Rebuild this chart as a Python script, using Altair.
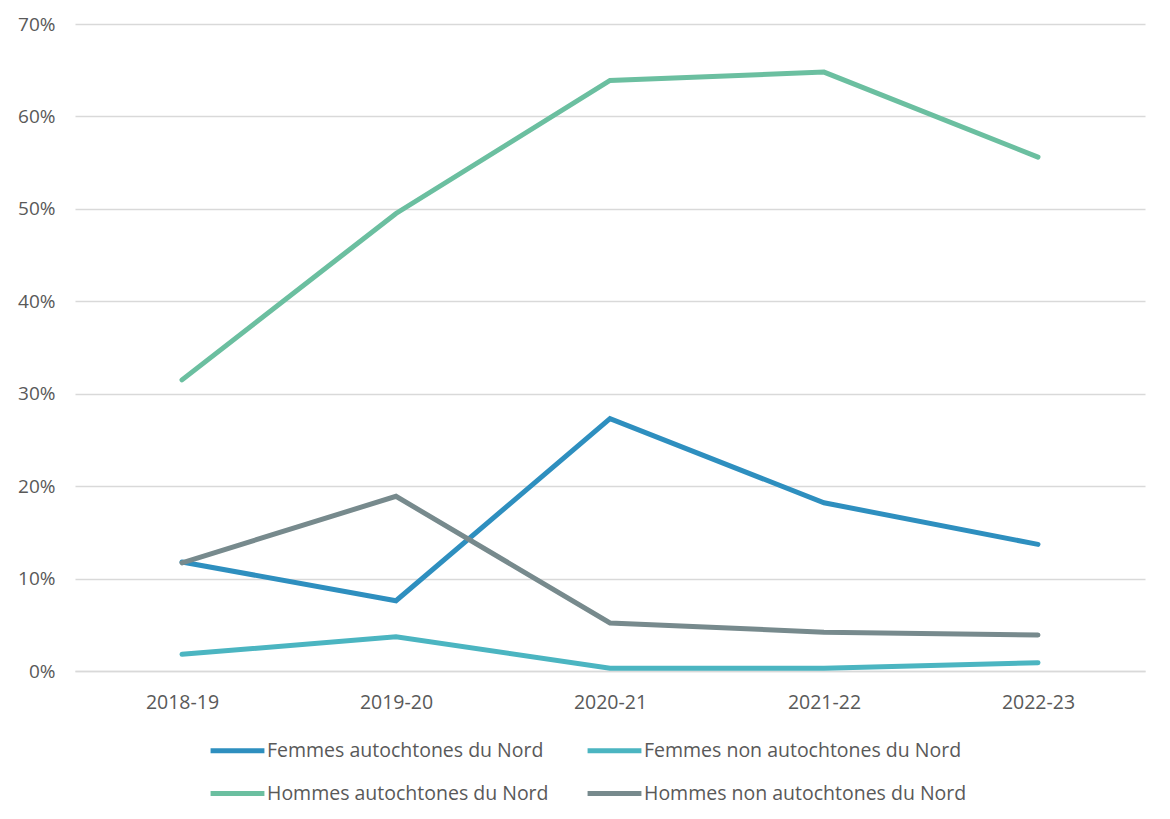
import altair as alt
import pandas as pd

years = ["2018-19", "2019-20", "2020-21", "2021-22", "2022-23"]
femmes_autochtones = [11.8, 7.6, 27.3, 18.2, 13.7]
femmes_non_autochtones = [1.8, 3.7, 0.3, 0.3, 0.9]
hommes_autochtones = [31.5, 49.5, 63.9, 64.8, 55.6]
hommes_non_autochtones = [11.7, 18.9, 5.2, 4.2, 3.9]

series = [
    "Femmes autochtones du Nord",
    "Hommes autochtones du Nord",
    "Femmes non autochtones du Nord",
    "Hommes non autochtones du Nord",
]
colors = ["#2E8FBF", "#6BBFA0", "#4BB5C1", "#778A8D"]
values = [femmes_autochtones, hommes_autochtones, femmes_non_autochtones, hommes_non_autochtones]

rows = []
for s, vals in zip(series, values):
    for y, v in zip(years, vals):
        rows.append({"Année": y, "Série": s, "Valeur": v / 100})
df = pd.DataFrame(rows)

font = "Open Sans"

chart = alt.Chart(df).mark_line(strokeWidth=5, strokeCap="round", strokeJoin="miter").encode(
    x=alt.X("Année:O", scale=alt.Scale(domain=years, paddingOuter=0.5),
            axis=alt.Axis(title=None, labelAngle=0, ticks=False, domain=True,
                          domainColor="#D9D9D9", domainWidth=1.5, labelPadding=22,
                          labelFontSize=19.5, labelColor="#595959", labelFont=font)),
    y=alt.Y("Valeur:Q", scale=alt.Scale(domain=[0, 0.7]),
            axis=alt.Axis(title=None, format=".0%", values=[0, .1, .2, .3, .4, .5, .6, .7],
                          ticks=False, domain=False, gridColor="#D9D9D9", gridWidth=1.5,
                          labelPadding=20, labelFontSize=19, labelColor="#595959", labelFont=font)),
    color=alt.Color("Série:N", scale=alt.Scale(domain=series, range=colors),
                    legend=alt.Legend(title=None, orient="none", legendX=133, legendY=697,
                                      columns=2, symbolType="stroke", symbolSize=2900,
                                      symbolStrokeWidth=5, labelFontSize=19.5, labelFont=font,
                                      labelColor="#595959", labelOffset=0, columnPadding=28,
                                      rowPadding=3, labelLimit=400)),
).properties(
    width=1070, height=647,
    padding={"left": 67, "top": 16, "right": 10, "bottom": 140},
    autosize=alt.AutoSizeParams(type="none"),
).configure(background="white", view=alt.ViewConfig(stroke=None))

chart.save("out.html", embed_options={"renderer": "svg", "actions": False})
